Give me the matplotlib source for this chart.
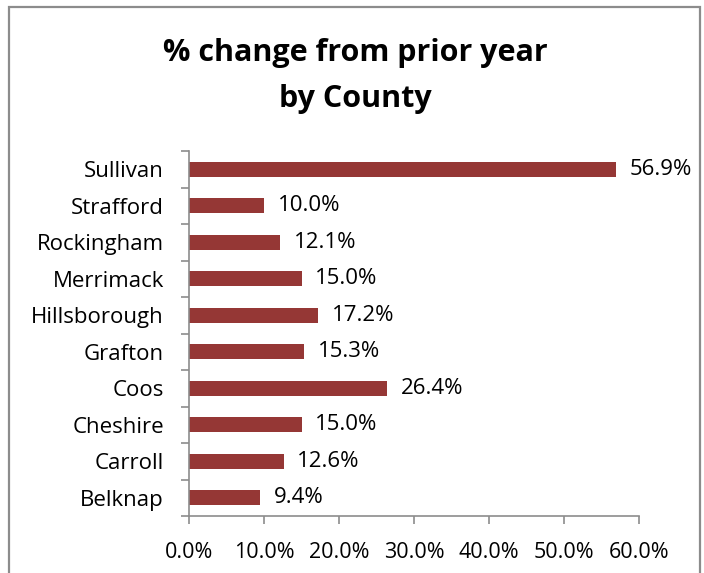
import matplotlib
matplotlib.use("Agg")
import matplotlib.pyplot as plt
from matplotlib.patches import Rectangle

counties = ["Belknap", "Carroll", "Cheshire", "Coos", "Grafton", "Hillsborough",
            "Merrimack", "Rockingham", "Strafford", "Sullivan"]
values = [9.4, 12.6, 15.0, 26.4, 15.3, 17.2, 15.0, 12.1, 10.0, 56.9]
xticks = [0, 10, 20, 30, 40, 50, 60]
title = "% change from prior year\nby County"

plt.rcParams['font.family'] = ['Open Sans', 'DejaVu Sans']

W, H = 704, 573
fig = plt.figure(figsize=(W / 100, H / 100), dpi=100)
fig.patch.set_facecolor("white")

# outer chart frame (bottom cut off)
fig.add_artist(Rectangle((9 / W, -0.05), (700 - 9) / W, (H - 7) / H + 0.05,
                         transform=fig.transFigure, fill=False,
                         edgecolor="#8c8c8c", linewidth=1.6))

ax = fig.add_axes([189 / W, 1 - 516 / H, (639 - 189) / W, (516 - 151) / H])
ypos = list(range(len(counties)))
ax.barh(ypos, values, height=0.41, color="#953735")
ax.set_xlim(0, 60)
ax.set_ylim(-0.5, len(counties) - 0.5)
ax.set_xticks(xticks)
ax.set_xticklabels([f"{v:.1f}%" for v in xticks], fontsize=15.5)
ax.set_yticks(ypos)
ax.set_yticklabels(counties, fontsize=16)
ax.set_yticks([i - 0.5 for i in range(len(counties) + 1)], minor=True)
ax.tick_params(axis="y", which="major", length=0, pad=18)
ax.tick_params(axis="y", which="minor", length=5.5, color="#8c8c8c", width=1.2)
ax.tick_params(axis="x", length=5.5, color="#8c8c8c", width=1.2, pad=13)
for s in ["top", "right"]:
    ax.spines[s].set_visible(False)
for s in ["left", "bottom"]:
    ax.spines[s].set_color("#8c8c8c")
    ax.spines[s].set_linewidth(1.2)

for y, v in zip(ypos, values):
    ax.annotate(f"{v:.1f}%", (v, y), xytext=(10, 0), textcoords="offset points",
                va="center", ha="left", fontsize=16)

fig.text(355 / W, 1 - 76 / H, title, ha="center", va="center", fontsize=22,
         fontweight="bold", linespacing=1.7)

fig.savefig("out.png", dpi=100)
